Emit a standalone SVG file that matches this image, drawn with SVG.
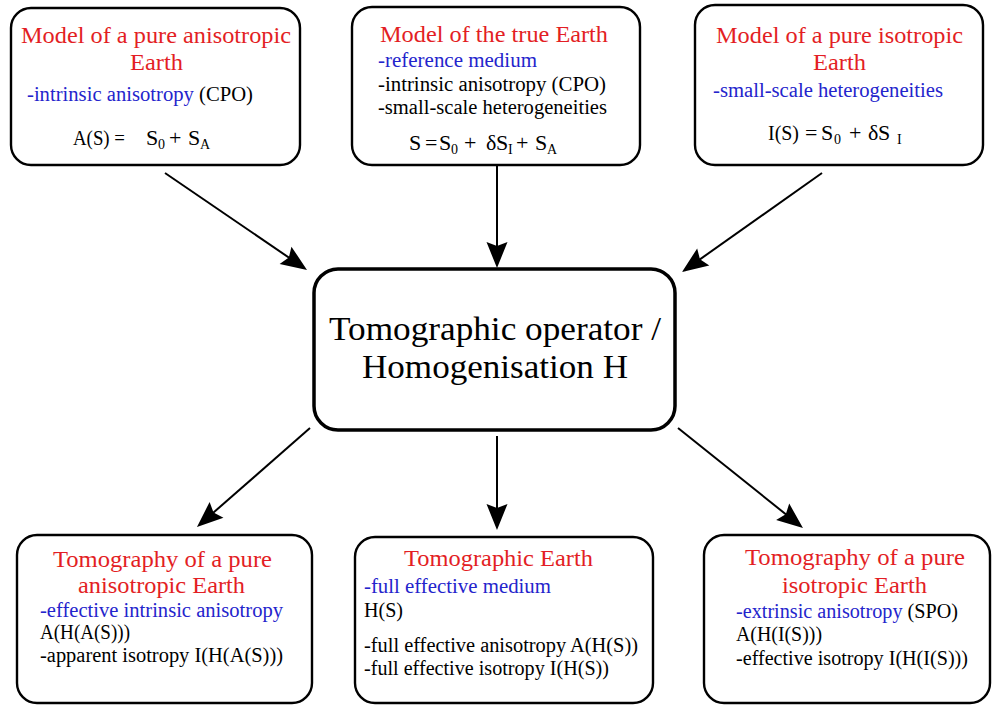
<svg xmlns="http://www.w3.org/2000/svg" width="993" height="708" viewBox="0 0 993 708">
<style>
text{font-family:"Liberation Serif","DejaVu Serif",serif;fill:#000}
.t{font-size:23px;fill:#e31e24}
.b{font-size:20.5px}
.bl{fill:#2424cc}
.f{font-size:22px}
.s{font-size:14px}
.c{font-size:34px}
.box{fill:#fff;stroke:#000;stroke-width:2.4}
.mid{fill:#fff;stroke:#000;stroke-width:3.5}
.cn line{stroke:#000;stroke-width:2}
</style>
<defs>
<marker id="ah" markerUnits="userSpaceOnUse" markerWidth="30" markerHeight="24" viewBox="-16 -12 30 24" refX="0" refY="0" orient="auto">
<path d="M12,0 L-14,-10.5 L-10,0 L-14,10.5 Z" fill="#000"/>
</marker>
</defs>
<rect width="993" height="708" fill="#fff"/>
<g class="cn" id="connectors">
<line x1="165" y1="173" x2="297.1" y2="263.2" marker-end="url(#ah)"/>
<line x1="497" y1="166" x2="497" y2="256" marker-end="url(#ah)"/>
<line x1="822" y1="173" x2="691.8" y2="265.1" marker-end="url(#ah)"/>
<line x1="310" y1="428" x2="206" y2="519.1" marker-end="url(#ah)"/>
<line x1="497" y1="436" x2="497" y2="518" marker-end="url(#ah)"/>
<line x1="678" y1="428" x2="793.6" y2="520.5" marker-end="url(#ah)"/>
</g>
<g id="model-anisotropic">
<rect class="box" x="11" y="8" width="289" height="157" rx="20"/>
<text class="t" x="21" y="43" textLength="270" lengthAdjust="spacingAndGlyphs">Model of a pure anisotropic</text>
<text class="t" x="130" y="70" textLength="53" lengthAdjust="spacingAndGlyphs">Earth</text>
<text class="b" x="27" y="101" textLength="226" lengthAdjust="spacingAndGlyphs"><tspan class="bl">-intrinsic anisotropy </tspan>(CPO)</text>
<text class="f"><tspan x="73" y="145" textLength="52" lengthAdjust="spacingAndGlyphs">A(S) =</tspan><tspan x="146" y="145">S</tspan><tspan class="s" x="158" y="149">0</tspan><tspan x="169" y="145">+</tspan><tspan x="188" y="145">S</tspan><tspan class="s" x="200" y="149">A</tspan></text>
</g>
<g id="model-true">
<rect class="box" x="352" y="7" width="288" height="158" rx="20"/>
<text class="t" x="380" y="42" textLength="228" lengthAdjust="spacingAndGlyphs">Model of the true Earth</text>
<text class="b bl" x="378" y="67" textLength="159" lengthAdjust="spacingAndGlyphs">-reference medium</text>
<text class="b" x="378" y="91" textLength="228" lengthAdjust="spacingAndGlyphs">-intrinsic anisotropy (CPO)</text>
<text class="b" x="378" y="114" textLength="229" lengthAdjust="spacingAndGlyphs">-small-scale heterogeneities</text>
<text class="f"><tspan x="409" y="150">S</tspan><tspan x="425" y="150">=</tspan><tspan x="439" y="150">S</tspan><tspan class="s" x="451" y="154">0</tspan><tspan x="464" y="150">+</tspan><tspan x="486" y="150">δ</tspan><tspan x="496" y="150">S</tspan><tspan class="s" x="508" y="154">I</tspan><tspan x="516" y="150">+</tspan><tspan x="535" y="150">S</tspan><tspan class="s" x="547" y="154">A</tspan></text>
</g>
<g id="model-isotropic">
<rect class="box" x="695" y="5" width="288" height="160" rx="20"/>
<text class="t" x="716" y="43" textLength="247" lengthAdjust="spacingAndGlyphs">Model of a pure isotropic</text>
<text class="t" x="813" y="70" textLength="53" lengthAdjust="spacingAndGlyphs">Earth</text>
<text class="b bl" x="713" y="97" textLength="230" lengthAdjust="spacingAndGlyphs">-small-scale heterogeneities</text>
<text class="f"><tspan x="768" y="140" textLength="31" lengthAdjust="spacingAndGlyphs">I(S)</tspan><tspan x="805" y="140">=</tspan><tspan x="821" y="140">S</tspan><tspan class="s" x="834" y="144">0</tspan><tspan x="849" y="140">+</tspan><tspan x="868" y="140">δ</tspan><tspan x="878" y="140">S</tspan><tspan class="s" x="897" y="144">I</tspan></text>
</g>
<g id="operator">
<rect class="mid" x="314" y="269" width="361" height="161" rx="24"/>
<text class="c" x="329" y="340" textLength="332" lengthAdjust="spacingAndGlyphs">Tomographic operator /</text>
<text class="c" x="362" y="378" textLength="266" lengthAdjust="spacingAndGlyphs">Homogenisation H</text>
</g>
<g id="tomo-anisotropic">
<rect class="box" x="17" y="535" width="295" height="168" rx="20"/>
<text class="t" x="53" y="567" textLength="219" lengthAdjust="spacingAndGlyphs">Tomography of a pure</text>
<text class="t" x="78" y="593" textLength="167" lengthAdjust="spacingAndGlyphs">anisotropic Earth</text>
<text class="b bl" x="40" y="617" textLength="243" lengthAdjust="spacingAndGlyphs">-effective intrinsic anisotropy</text>
<text class="b" x="40" y="639" textLength="90" lengthAdjust="spacingAndGlyphs">A(H(A(S)))</text>
<text class="b" x="40" y="662" textLength="243" lengthAdjust="spacingAndGlyphs">-apparent isotropy I(H(A(S)))</text>
</g>
<g id="tomo-earth">
<rect class="box" x="355" y="537" width="298" height="166" rx="20"/>
<text class="t" x="404" y="566" textLength="189" lengthAdjust="spacingAndGlyphs">Tomographic Earth</text>
<text class="b bl" x="364" y="593" textLength="187" lengthAdjust="spacingAndGlyphs">-full effective medium</text>
<text class="b" x="364" y="617" textLength="39" lengthAdjust="spacingAndGlyphs">H(S)</text>
<text class="b" x="364" y="652" textLength="274" lengthAdjust="spacingAndGlyphs">-full effective anisotropy A(H(S))</text>
<text class="b" x="364" y="675" textLength="245" lengthAdjust="spacingAndGlyphs">-full effective isotropy I(H(S))</text>
</g>
<g id="tomo-isotropic">
<rect class="box" x="704" y="535" width="286" height="168" rx="20"/>
<text class="t" x="745" y="565" textLength="220" lengthAdjust="spacingAndGlyphs">Tomography of a pure</text>
<text class="t" x="782" y="593" textLength="145" lengthAdjust="spacingAndGlyphs">isotropic Earth</text>
<text class="b" x="736" y="618" textLength="222" lengthAdjust="spacingAndGlyphs"><tspan class="bl">-extrinsic anisotropy </tspan>(SPO)</text>
<text class="b" x="736" y="641" textLength="86" lengthAdjust="spacingAndGlyphs">A(H(I(S)))</text>
<text class="b" x="736" y="665" textLength="232" lengthAdjust="spacingAndGlyphs">-effective isotropy I(H(I(S)))</text>
</g>
</svg>
